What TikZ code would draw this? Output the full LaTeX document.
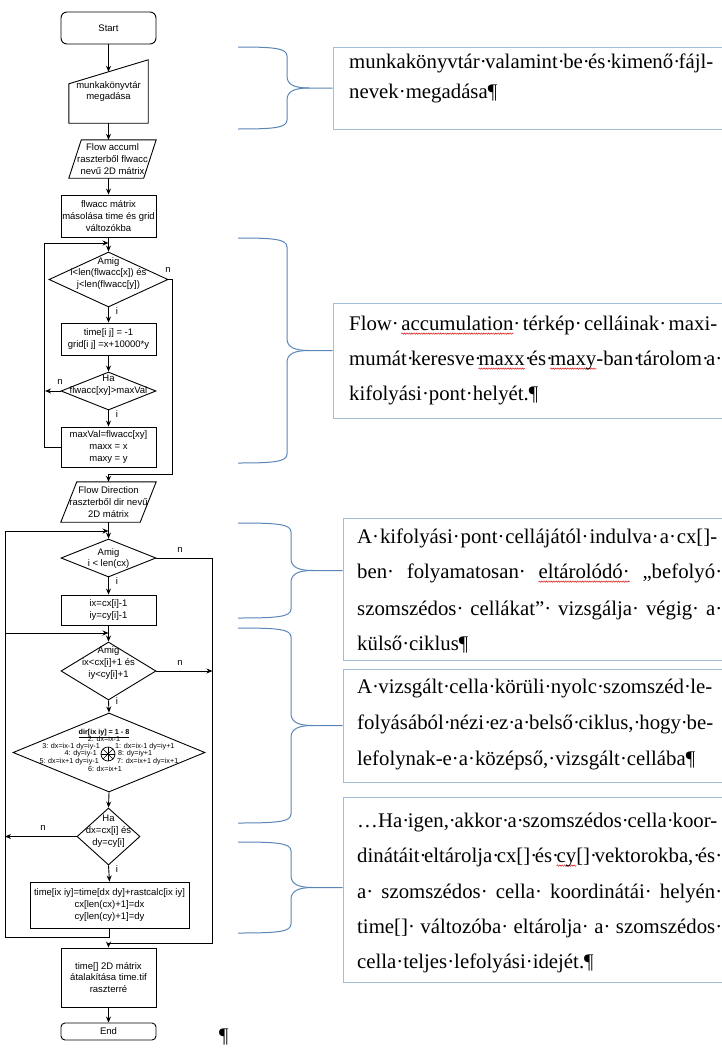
\documentclass[tikz,border=0pt]{standalone}
\usepackage{fontspec}
\usetikzlibrary{shapes.geometric,calc,arrows.meta,decorations.pathmorphing}
\newfontfamily\fcfont{Liberation Sans}
\newfontfamily\ntfont{Liberation Serif}
\definecolor{bracec}{HTML}{5B87B8}
\definecolor{notec}{HTML}{A3BCD8}
\newcommand\JS{·\hskip 0pt plus 1fil minus 3pt}
\newcommand\JG{\hskip 0pt plus 1fil minus 3pt}
\newsavebox\wvbox
\newlength\wvlen
\newcommand\wv[1]{\sbox\wvbox{#1}\setlength\wvlen{\wd\wvbox}\rlap{\tikz[overlay]\draw[red!85!black,line width=0.45pt,decorate,decoration={snake,amplitude=0.7pt,segment length=2.4pt}] (0pt,-3.6pt) -- (\wvlen,-3.6pt);}\usebox\wvbox}
\newcommand\mybrace[4]{%
  \coordinate (bm) at (#3+22,{(#1+#2)/2});
  \draw[brace] (238,#1) .. controls (#3-14,#1) and (#3,#1+1) .. (#3,#1+9) -- (#3,{(#1+#2)/2-12}) .. controls (#3,{(#1+#2)/2-3}) and (#3+8,{(#1+#2)/2}) .. (bm) -- (bm -| #4.west);
  \draw[brace] (bm) .. controls (#3+8,{(#1+#2)/2}) and (#3,{(#1+#2)/2+3}) .. (#3,{(#1+#2)/2+12}) -- (#3,#2-9) .. controls (#3,#2-1) and (#3-14,#2) .. (238,#2);}
\tikzset{
  fl/.style={draw=black, line width=0.9pt},
  arr/.style={fl, -{Stealth[length=6pt,width=5pt]}},
  ff/.style={font=\fcfont\fontsize{9.5}{11.8}\selectfont},
  proc/.style={rectangle, fl, ff, minimum width=95, inner sep=0, align=center},
  term/.style={proc, rounded corners=6pt},
  dec/.style={diamond, fl, inner sep=0},
  inv/.style={rectangle, ff, inner sep=0, align=center},
  ftxt/.style={ff, inner sep=0, align=center},
  lbl/.style={ff, inner sep=0},
  small/.style={inner sep=0, font=\fcfont\fontsize{7.2}{7.4}\selectfont},
  brace/.style={draw=bracec, line width=1pt},
  notebox/.style={rectangle, draw=notec, line width=0.9pt, inner sep=0},
  ntext/.style={inner sep=0, anchor=base west, font=\ntfont\fontsize{20.8}{24}\selectfont},
}
\begin{document}
\begin{tikzpicture}[x=1pt,y=-1pt]
\useasboundingbox (0,0) rectangle (722,1049);
\fill[white] (0,0) rectangle (722,1049);
\clip (0,0) rectangle (722,1049);

% ---------- flowchart nodes ----------
\node[term, minimum height=32] (start) at (108.5,28) {Start};
\node[inv, minimum width=79, minimum height=63] (mi) at (108.5,91.5) {munkakönyvtár\\megadása};
\draw[fl] (mi.south west) -- ($(mi.north west)+(0,24)$) -- (mi.north east) -- (mi.south east) -- cycle;
\node[inv, minimum width=87, minimum height=38] (fa) at (112.5,159) {Flow accuml\\raszterből flwacc\\nevű 2D mátrix};
\draw[fl] (fa.south west) -- ($(fa.north west)+(12.5,0)$) -- (fa.north east) -- ($(fa.south east)+(-12.5,0)$) -- cycle;
\node[proc, minimum height=42] (cpy) at (108.5,216) {flwacc mátrix\\másolása time és grid\\változókba};

\node[dec, minimum width=119, minimum height=55] (d1) at (108.5,279.5) {};
\node[ftxt] (d1t) at (108.5,273.5) {Amig\\i<len(flwacc[x]) és\\j<len(flwacc[y])};
\node[proc, minimum height=32] (t1) at (108.5,339) {time[i j] = -1\\grid[i j] =x+10000*y};
\node[dec, minimum width=95, minimum height=38] (d2) at (108.5,391) {};
\node[ftxt] (d2t) at (108.5,385) {Ha\\flwacc[xy]>maxVal};
\node[proc, minimum height=40] (mv) at (108.5,447) {maxVal=flwacc[xy]\\maxx = x\\maxy = y};

\node[inv, minimum width=95, minimum height=40] (fd) at (108.5,502) {Flow Direction\\raszterből dir nevű\\2D mátrix};
\draw[fl] (fd.south west) -- ($(fd.north west)+(16,0)$) -- (fd.north east) -- ($(fd.south east)+(-16,0)$) -- cycle;

\node[dec, minimum width=95, minimum height=38] (d3) at (108.5,558) {};
\node[ftxt] (d3t) at (108.5,558.5) {Amig\\i < len(cx)};
\node[proc, minimum height=30] (ix) at (108.5,610) {ix=cx[i]-1\\iy=cy[i]-1};
\node[dec, minimum width=95, minimum height=58] (d4) at (108.5,671) {};
\node[ftxt] (d4t) at (108.5,663) {Amig\\ix<cx[i]+1 és\\iy<cy[i]+1};

\node[dec, minimum width=192, minimum height=79] (d5) at (109,752.5) {};
\node[small, anchor=base] (s1) at (104,734.5) {\underline{\bfseries dir[ix iy] = 1 - 8}};
\node[small, anchor=base] (s2) at (104,741) {2: dx=ix-1};
\node[small, anchor=base east] (s3l) at (100,748.5) {3: dx=ix-1 dy=iy-1};
\node[small, anchor=base west] (s3r) at (115,748.5) {1: dx=ix-1 dy=iy+1};
\node[small, anchor=base east] (s4l) at (97,755.5) {4: dy=iy-1};
\node[small, anchor=base west] (s4r) at (118,755.5) {8: dy=iy+1};
\node[small, anchor=base east] (s5l) at (99,763) {5: dx=ix+1 dy=iy-1};
\node[small, anchor=base west] (s5r) at (117,763) {7: dx=ix+1 dy=ix+1};
\node[small, anchor=base] (s6) at (105,771) {6: dx=ix+1};
\node[circle, draw, line width=0.7pt, minimum size=14, inner sep=0] (wh) at (108,754) {};
\foreach \a in {0,45,...,315} \draw[line width=0.5pt] (wh.center) -- (wh.\a);
\fill (wh.center) circle (1pt);

\node[dec, minimum width=63, minimum height=57] (d6) at (108.5,836.5) {};
\node[ftxt] (d6t) at (108.5,831) {Ha\\dx=cx[i] és\\dy=cy[i]};
\node[proc, minimum width=159, minimum height=46] (upd) at (109.5,905) {time[ix iy]=time[dx dy]+rastcalc[ix iy]\\cx[len(cx)+1]=dx\\cy[len(cy)+1]=dy};
\node[proc, minimum height=59] (out) at (108.5,977.5) {time[] 2D mátrix\\átalakítása time.tif\\raszterré};
\node[term, rounded corners=4pt, minimum height=17] (stop) at (108.5,1031.5) {End};

% labels
\node[lbl] (ln1) at (168,270) {n};
\node[lbl] (li1) at (117,311) {i};
\node[lbl] (ln2) at (60,382) {n};
\node[lbl] (li2) at (117,414) {i};
\node[lbl] (ln3) at (180,550) {n};
\node[lbl] (li3) at (117,581) {i};
\node[lbl] (ln4) at (180,663) {n};
\node[lbl] (li4) at (117,701) {i};
\node[lbl] (ln6) at (43,828) {n};
\node[lbl] (li6) at (117,869) {i};

% junction coordinates
\coordinate (j1) at (108.5,243);
\coordinate (j2) at (108.5,474);
\coordinate (j3) at (108.5,531);
\coordinate (j4) at (108.5,633);
\coordinate (j5) at (108.5,943);
\coordinate (lb) at (5,937);

% connectors
\draw[arr] (start.south) -- ($(mi.north)+(0,12)$);
\draw[arr] (mi.south) -- (mi.south |- fa.north);
\draw[arr] (fa.south -| mi.south) -- (cpy.north);
\draw[arr] (cpy.south) -- (d1.north);
\draw[arr] (d1.south) -- (t1.north);
\draw[arr] (t1.south) -- (d2.north);
\draw[arr] (d2.south) -- (mv.north);
\draw[arr] (d2.west) -- ++(-15.5,0);
\draw[arr] (mv.west) -- ++(-16,0) |- (j1);
\draw[arr] (d1.east) -- ++(4,0) |- (j2) -- (fd.north);
\draw[arr] (fd.south) -- (d3.north);
\draw[arr] (d3.south) -- (ix.north);
\draw[arr] (ix.south) -- (d4.north);
\draw[arr] (d4.east) -- ++(56,0);
\draw[arr] (d4.south) -- (d5.north);
\draw[arr] (d5.south) -- (d6.north);
\draw[arr] (d6.west) -- (d6.west -| lb);
\draw[arr] (d6.south) -- (upd.north);
\draw[arr] (upd.south) |- (lb) |- (j4);
\draw[arr] (lb) |- (j3);
\draw[arr] (d3.east) -- ++(56,0) |- (j5) -- (out.north);
\draw[arr] (out.south) -- (stop.north);

\node[ntext] (pil) at (219,1042) {¶};

% ---------- notes ----------
\node[notebox, minimum width=397, minimum height=82] (n1) at (531.5,88) {};
\node[notebox, minimum width=397, minimum height=115] (n2) at (531.5,360.5) {};
\node[notebox, minimum width=387, minimum height=142] (n3) at (536.5,589) {};
\node[notebox, minimum width=387, minimum height=113] (n4) at (536.5,725.5) {};
\node[notebox, minimum width=387, minimum height=185] (n5) at (536.5,889.5) {};

\mybrace{47}{129}{287}{n1}
\mybrace{238}{463}{287}{n2}
\mybrace{523}{618}{291}{n3}
\mybrace{628}{823}{291}{n4}
\mybrace{842}{933}{291}{n5}

\node[ntext] (n1a) at (349,69) {\hbox to 364pt{munkakönyvtár\JS valamint\JS be\JS és\JS kimenő\JS fájl-}};
\node[ntext] (n1b) at (349,98) {nevek·megadása¶};

\node[ntext] (n2a) at (349,330) {\hbox to 368pt{Flow\JS \wv{accumulation}\JS térkép\JS celláinak\JS maxi-}};
\node[ntext] (n2b) at (349,365) {\hbox to 373pt{mumát\JS keresve\JS \wv{maxx}\JS és\JS \wv{maxy}-ban\JS tárolom\JS a·}};
\node[ntext] (n2c) at (349,400) {kifolyási·pont·helyét.¶};

\node[ntext] (n3a) at (357,543) {\hbox to 360pt{A\JS kifolyási\JS pont\JS cellájától\JS indulva\JS a\JS cx[]-}};
\node[ntext] (n3b) at (357,578) {\hbox to 365pt{ben\JS folyamatosan\JS \wv{eltárolódó·}\JG „befolyó·}};
\node[ntext] (n3c) at (357,615) {\hbox to 365pt{szomszédos\JS cellákat”\JS vizsgálja\JS végig\JS a·}};
\node[ntext] (n3d) at (357,650) {külső·ciklus¶};

\node[ntext] (n4a) at (357,693) {\hbox to 355pt{A\JS vizsgált\JS cella\JS körüli\JS nyolc\JS szomszéd\JS le-}};
\node[ntext] (n4b) at (357,729) {\hbox to 356pt{folyásából\JS nézi\JS ez\JS a\JS belső\JS ciklus,\JS hogy\JS be-}};
\node[ntext] (n4c) at (357,765) {lefolynak-e·a·középső,·vizsgált·cellába¶};

\node[ntext] (n5a) at (357,827) {\hbox to 360pt{…Ha\JS igen,\JS akkor\JS a\JS szomszédos\JS cella\JS koor-}};
\node[ntext] (n5b) at (357,862) {\hbox to 365pt{dinátáit\JS eltárolja\JS cx[]\JS és\JS \wv{cy}[]\JS vektorokba,\JS és·}};
\node[ntext] (n5c) at (357,898) {\hbox to 365pt{a\JS szomszédos\JS cella\JS koordinátái\JS helyén·}};
\node[ntext] (n5d) at (357,933) {\hbox to 365pt{time[]\JS változóba\JS eltárolja\JS a\JS szomszédos·}};
\node[ntext] (n5e) at (357,968) {cella·teljes·lefolyási·idejét.¶};
\end{tikzpicture}
\end{document}
